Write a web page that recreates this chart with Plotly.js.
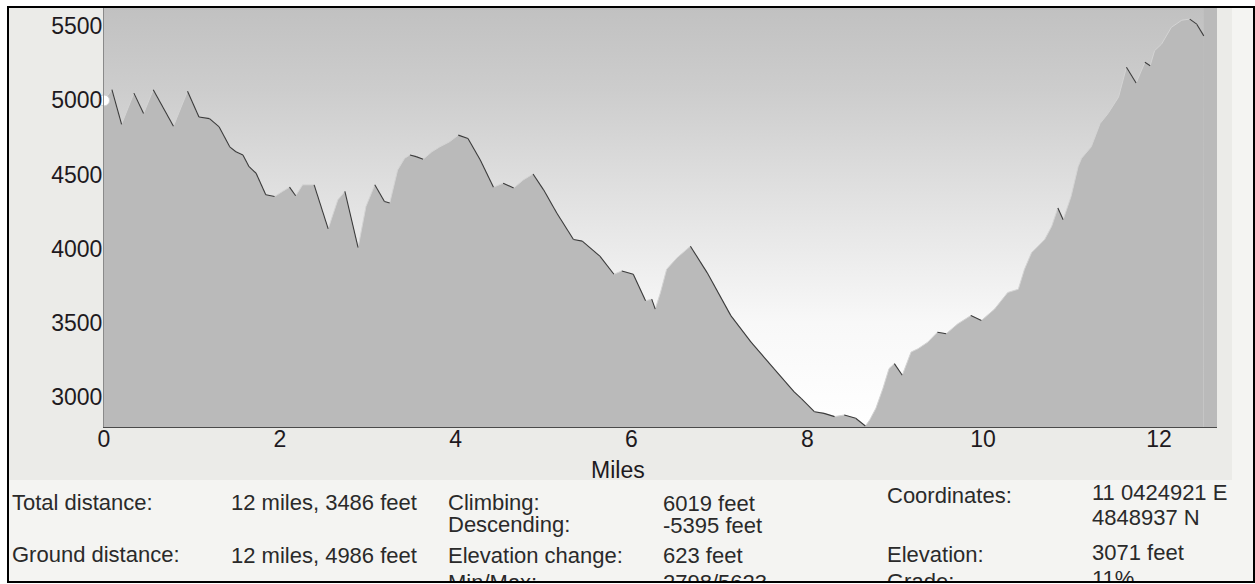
<!DOCTYPE html>
<html>
<head>
<meta charset="utf-8">
<script src="https://cdn.plot.ly/plotly-3.0.1.min.js"></script>
<style>
  html, body { margin: 0; padding: 0; background: #ffffff; }
  #wrap { position: relative; width: 1255px; height: 584px; overflow: hidden; }
  #panel { position: absolute; left: 9px; top: 8px; width: 1244px; height: 573px; background: #f4f4f2; }
  #band { position: absolute; left: 9px; top: 8px; width: 1223px; height: 472px; background: #ebebe8; }
  #chart { position: absolute; left: 0; top: 0; width: 1255px; height: 584px; }
  #frame { position: absolute; left: 7px; top: 6px; width: 1244px; height: 573px; border: 2px solid #000; pointer-events: none; }
  #cut { position: absolute; left: 0; top: 583px; width: 1255px; height: 1px; background: #fff; }
</style>
</head>
<body>
<div id="wrap">
  <div id="panel"></div>
  <div id="band"></div>
  <div id="chart"></div>
  <div id="frame"></div>
  <div id="cut"></div>
</div>
<script>
// ---- Data ----
const distanceMi = [0.00,0.09,0.20,0.34,0.45,0.56,0.79,0.95,1.08,1.20,1.31,1.43,1.50,1.58,1.65,1.73,1.84,1.94,2.03,2.11,2.18,2.26,2.39,2.55,2.66,2.74,2.89,2.98,3.08,3.19,3.25,3.34,3.42,3.48,3.55,3.63,3.73,3.82,3.93,4.03,4.14,4.28,4.43,4.54,4.66,4.77,4.88,5.00,5.15,5.34,5.44,5.64,5.80,5.89,6.02,6.16,6.23,6.27,6.33,6.40,6.52,6.67,6.86,7.13,7.36,7.62,7.85,7.93,8.08,8.19,8.31,8.42,8.55,8.66,8.71,8.78,8.86,8.93,8.99,9.08,9.18,9.26,9.37,9.48,9.58,9.71,9.86,9.98,10.13,10.28,10.40,10.47,10.55,10.70,10.78,10.85,10.91,11.00,11.08,11.12,11.23,11.33,11.42,11.54,11.63,11.74,11.84,11.90,11.95,12.03,12.14,12.26,12.35,12.43,12.51];
const elevationFt = [5000,5072,4839,5049,4911,5072,4826,5062,4888,4877,4821,4687,4654,4632,4553,4509,4364,4352,4386,4415,4357,4431,4431,4134,4330,4386,4007,4285,4431,4319,4308,4531,4610,4632,4621,4603,4654,4687,4721,4766,4743,4598,4415,4442,4409,4464,4504,4397,4241,4062,4051,3950,3828,3850,3828,3649,3660,3593,3705,3861,3940,4017,3839,3549,3370,3192,3035,2991,2901,2890,2868,2879,2857,2805,2846,2924,3058,3192,3225,3147,3303,3326,3370,3437,3427,3493,3549,3516,3593,3705,3727,3861,3973,4062,4151,4275,4196,4352,4553,4610,4687,4844,4911,5022,5223,5117,5257,5234,5335,5380,5492,5541,5548,5514,5435];
const xTickVals = [0, 2, 4, 6, 8, 10, 12];
const yTickVals = [3000, 3500, 4000, 4500, 5000, 5500];
const minMaxFt = [2798, 5623];
const totalDistanceMi = 12 + 3486 / 5280;
const cursorMi = [0];
const cursorFt = [5000];
const axisTitle = "Miles";

const col1Labels = ["Total distance:", "Ground distance:"];
const col1Values = ["12 miles, 3486 feet", "12 miles, 4986 feet"];
const col2Labels = ["Climbing:", "Descending:", "Elevation change:", "Min/Max:"];
const col2Values = ["6019 feet", "-5395 feet", "623 feet", "2798/5623"];
const col3Labels = ["Coordinates:", "", "Elevation:", "Grade:"];
const col3Values = ["11 0424921 E", "4848937 N", "3071 feet", "11%"];

// ---- Geometry helpers (pixel -> paper) ----
const W = 1255, H = 584;
const M = { l: 104, r: 38, t: 8, b: 157 };
const PW = W - M.l - M.r, PH = H - M.t - M.b;
const xp = px => (px - M.l) / PW;
const yp = py => (H - M.b - py) / PH;

// background gradient region (derived from data extent)
const xLast = distanceMi[distanceMi.length - 1];
const bgTrace = {
  x: [0, xLast, xLast, 0, 0],
  y: [minMaxFt[0], minMaxFt[0], minMaxFt[1], minMaxFt[1], minMaxFt[0]],
  mode: 'lines', fill: 'toself', line: { width: 0 },
  fillgradient: { type: 'vertical', colorscale: [[0, '#ffffff'], [0.25, '#f8f8f8'], [0.55, '#e1e1e1'], [0.8, '#cdcdcd'], [1, '#c1c1c1']] },
  hoverinfo: 'skip', showlegend: false
};

const areaTrace = {
  x: distanceMi, y: elevationFt, mode: 'lines', fill: 'tozeroy',
  fillcolor: '#bababa', line: { color: '#d4d4d4', width: 1 },
  hoverinfo: 'skip', showlegend: false
};

// dark edge on descending segments
const dx = [], dy = [];
for (let i = 0; i < distanceMi.length - 1; i++) {
  if (elevationFt[i + 1] < elevationFt[i]) {
    dx.push(distanceMi[i], distanceMi[i + 1], null);
    dy.push(elevationFt[i], elevationFt[i + 1], null);
  }
}
const edgeTrace = {
  x: dx, y: dy, mode: 'lines', line: { color: '#3a3a3a', width: 1.1 },
  connectgaps: false, hoverinfo: 'skip', showlegend: false
};

const cursorTrace = {
  x: cursorMi, y: cursorFt, mode: 'markers', cliponaxis: false,
  marker: { size: 11, color: '#ffffff', line: { color: '#d0d0d0', width: 1 } },
  hoverinfo: 'skip', showlegend: false
};

const FONT = 'Liberation Sans, Arial, sans-serif';
const TXT = '#2a2a2a';
const ann = [];
function addCol(texts, xpx, centers) {
  texts.forEach((t, i) => {
    if (!t) return;
    ann.push({ text: t, xref: 'paper', yref: 'paper', x: xp(xpx), y: yp(centers[i]),
      xanchor: 'left', yanchor: 'middle', showarrow: false, borderpad: 0,
      font: { family: FONT, size: 22, color: TXT } });
  });
}
addCol(col1Labels, 11, [502, 554]);
addCol(col1Values, 230, [502, 555]);
addCol(col2Labels, 447, [502, 524.5, 555.5, 582]);
addCol(col2Values, 662, [503.5, 525, 555, 582]);
addCol(col3Labels, 886, [495, 517, 554, 581]);
addCol(col3Values, 1091, [492, 517, 552, 578]);
ann.push({ text: axisTitle, xref: 'paper', yref: 'paper', x: xp(618), y: yp(470),
  xanchor: 'center', yanchor: 'middle', showarrow: false, borderpad: 0,
  font: { family: FONT, size: 23, color: '#1e1a1e' } });

const layout = {
  width: W, height: H,
  margin: M,
  paper_bgcolor: 'rgba(0,0,0,0)',
  plot_bgcolor: '#bababa',
  showlegend: false,
  xaxis: {
    range: [0, totalDistanceMi], tickvals: xTickVals, ticktext: xTickVals.map(String),
    ticks: '', showgrid: false, zeroline: false, showline: true,
    linecolor: '#4a4a4a', linewidth: 1, ticklabelstandoff: -9,
    tickfont: { family: FONT, size: 23, color: '#1e1a1e' }
  },
  yaxis: {
    range: minMaxFt, tickvals: yTickVals, ticktext: yTickVals.map(String),
    ticks: '', showgrid: false, zeroline: false, showline: true,
    linecolor: '#8a8a8a', linewidth: 1, ticklabelstandoff: -4,
    tickfont: { family: FONT, size: 23, color: '#1e1a1e' }
  },
  annotations: ann
};

Plotly.newPlot('chart', [bgTrace, areaTrace, edgeTrace, cursorTrace], layout, { staticPlot: true, displayModeBar: false });
</script>
</body>
</html>
